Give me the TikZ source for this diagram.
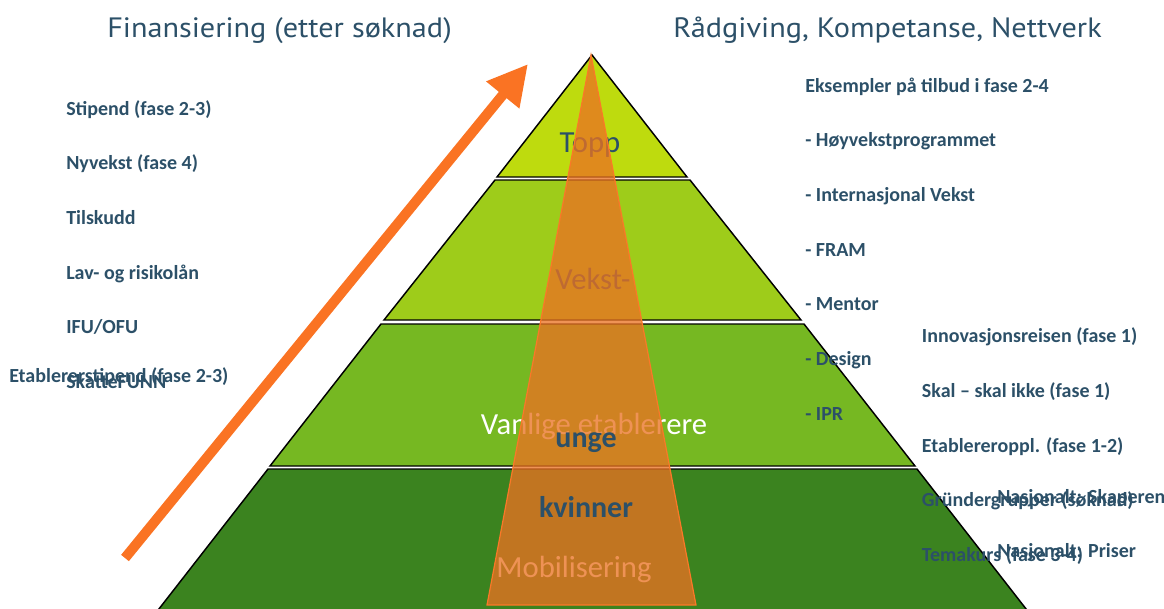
\documentclass[tikz,border=0pt]{standalone}
\usepackage{fontspec}
\setmainfont{Carlito}
\newfontfamily\titlefont[FakeStretch=1.08]{PT Sans}
\usepackage{tikz}
\usetikzlibrary{arrows.meta, positioning}
\definecolor{textblue}{RGB}{44,80,104}
\definecolor{toppgreen}{RGB}{190,219,14}
\definecolor{vekstgreen}{RGB}{158,204,26}
\definecolor{vanliggreen}{RGB}{118,184,34}
\definecolor{mobilgreen}{RGB}{59,131,31}
\definecolor{arroworange}{RGB}{250,115,35}
\definecolor{overlayorange}{RGB}{234,114,34}
\definecolor{overlayline}{RGB}{250,120,40}
\tikzstyle{heading}=[text=textblue, font=\titlefont\fontsize{21}{25}\selectfont, anchor=base west, inner sep=0pt]
\tikzstyle{offer}=[text=textblue, font=\bfseries\fontsize{15}{18}\selectfont, anchor=base west, inner sep=0pt]
\tikzstyle{tier}=[draw=black, line width=1.1pt]
\tikzstyle{tiername}=[font=\fontsize{23}{27}\selectfont, anchor=base, inner sep=0pt]
\tikzstyle{groupname}=[text=textblue, font=\bfseries\fontsize{22.5}{27}\selectfont, anchor=base, inner sep=0pt]
\tikzstyle{arrow}=[line width=7.5pt, draw=arroworange, -{Triangle[length=30pt,width=30pt]}]
\begin{document}
\begin{tikzpicture}[x=0.75pt, y=-0.75pt, node distance=41pt]
		\useasboundingbox (0,0) rectangle (1164,608);
		
		% growth arrow
		\coordinate (arrowstart) at (125,558);
		\coordinate (arrowend) at (528,64);
		\draw[arrow](arrowstart)--(arrowend);
		
		% pyramid
		\filldraw[tier, fill=toppgreen](592,55)--(687,177)--(497,177)--cycle;
		\filldraw[tier, fill=vekstgreen](495,180)--(690,180)--(801,320)--(384,320)--cycle;
		\filldraw[tier, fill=vanliggreen](381,324)--(804,324)--(915,466)--(270,466)--cycle;
		\filldraw[tier, fill=mobilgreen](268,469)--(917,469)--(1030,614)--(155,614)--cycle;
		
		\node(topp)[tiername, text=textblue] at (590,152){Topp};
		\node(vekst)[tiername, text=textblue] at (593,289){Vekst-};
		\node(vanlige)[tiername, text=white] at (594,434){Vanlige etablerere};
		\node(mobil)[tiername, text=white] at (574,577){Mobilisering};
		
		% target groups
		\filldraw[fill=overlayorange, fill opacity=0.77, draw=overlayline, line width=0.9pt](591,55)--(696,605)--(487,605)--cycle;
		\node(unge)[groupname] at (586,447){unge};
		\node(kvinner)[groupname] at (586,517){kvinner};
		
		% headings
		\node(finans)[heading] at (107,37.3){Finansiering (etter søknad)};
		\node(raad)[heading] at (673,37.3){Rådgiving, Kompetanse, Nettverk};
		
		% financing offers
		\node(fin1)[offer] at (66,115){Stipend (fase 2-3)};
		\node(fin2)[offer, below=of fin1.base west, anchor=base west]{Nyvekst (fase 4)};
		\node(fin3)[offer, below=of fin2.base west, anchor=base west]{Tilskudd};
		\node(fin4)[offer, below=of fin3.base west, anchor=base west]{Lav- og risikolån};
		\node(fin5)[offer, below=of fin4.base west, anchor=base west]{IFU/OFU};
		\node(fin6)[offer, below=of fin5.base west, anchor=base west]{SkatteFUNN};
		\node(fin7)[offer] at (9,382){Etablererstipend (fase 2-3)};
		
		% advice offers
		\node(adv1)[offer] at (805,92.3){Eksempler på tilbud i fase 2-4};
		\node(adv2)[offer, below=of adv1.base west, anchor=base west]{- Høyvekstprogrammet};
		\node(adv3)[offer, below=of adv2.base west, anchor=base west]{- Internasjonal Vekst};
		\node(adv4)[offer, below=of adv3.base west, anchor=base west]{- FRAM};
		\node(adv5)[offer, below=of adv4.base west, anchor=base west]{- Mentor};
		\node(adv6)[offer, below=of adv5.base west, anchor=base west]{- Design};
		\node(adv7)[offer, below=of adv6.base west, anchor=base west]{- IPR};
		
		\node(start1)[offer] at (921.7,342.7){Innovasjonsreisen (fase 1)};
		\node(start2)[offer, below=of start1.base west, anchor=base west]{Skal – skal ikke (fase 1)};
		\node(start3)[offer, below=of start2.base west, anchor=base west]{Etablereroppl. (fase 1-2)};
		\node(start4)[offer, below=of start3.base west, anchor=base west]{Gründergrupper (søknad)};
		\node(start5)[offer, below=of start4.base west, anchor=base west]{Temakurs (fase 3-4)};
		
		\node(nasj1)[offer] at (997,503.3){Nasjonalt: Skaperen};
		\node(nasj2)[offer, below=of nasj1.base west, anchor=base west]{Nasjonalt: Priser};
	\end{tikzpicture}
\end{document}
